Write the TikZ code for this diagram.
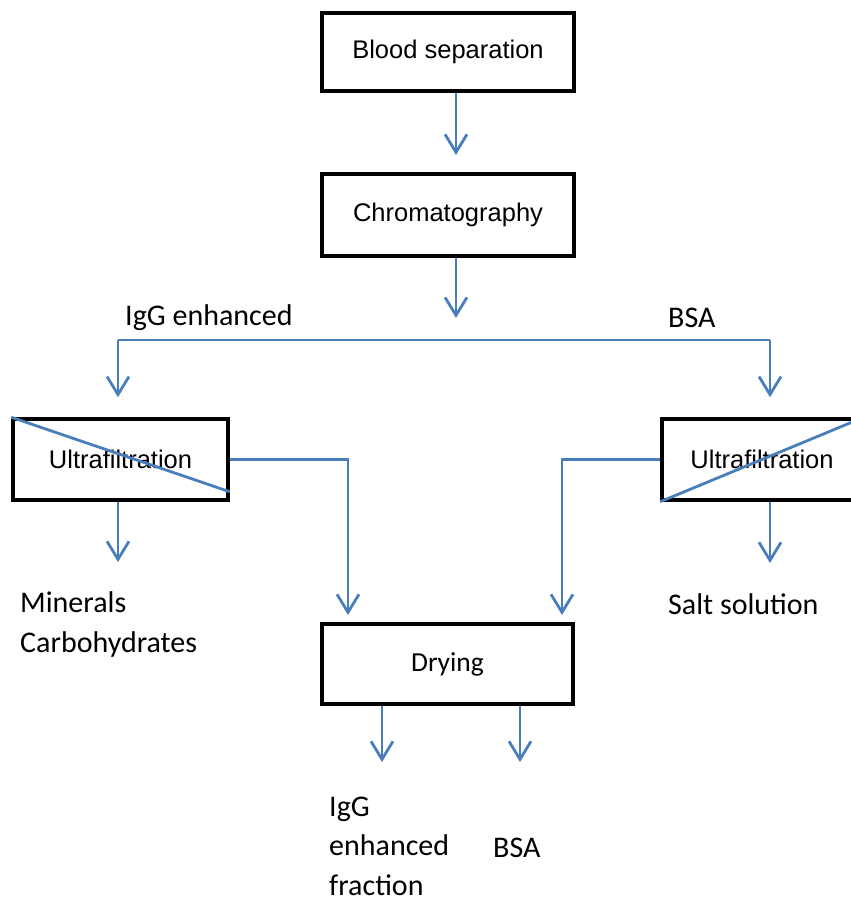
\documentclass[tikz,border=0pt]{standalone}
\usepackage{fontspec}
\setmainfont{Carlito}
\newfontfamily\boxfont{Liberation Sans}
\usetikzlibrary{arrows.meta,calc}

\definecolor{lineblue}{RGB}{74,126,187}

\begin{document}
\begin{tikzpicture}[
    x=1pt, y=1pt,
    box/.style={draw, line width=3.5pt, align=center, minimum height=81pt, minimum width=252pt,
      font=\boxfont\fontsize{25.5}{30}\selectfont},
    ufbox/.style={box, minimum width=215pt},
    label/.style={inner sep=0pt, anchor=west, align=left, font=\fontsize{30}{40}\selectfont},
    link/.style={draw=lineblue, line width=2.8pt},
    flow/.style={link, -{Straight Barb[length=18pt, width=22pt]}}
  ]
    \useasboundingbox (0,0) rectangle (851,900);

    % main process line
    \node[box, minimum height=78pt] (blood) at (448,848) {Blood separation};
    \node[box, minimum height=82pt] (chrom) at (448,685) {Chromatography};
    \node[ufbox] (ufl) at (120.5,440.5) {Ultrafiltration};
    \node[ufbox, minimum width=200pt] (ufr) at (762,440.5) {Ultrafiltration};
    \node[box, minimum width=251pt, minimum height=80pt, font=\fontsize{27.5}{32}\selectfont] (dry) at (447.5,236) {Drying};

    % crossed-out filters
    \draw[link] (ufl.north west) -- ($(ufl.south east)+(0,10)$);
    \draw[link] (ufr.south west) -- (ufr.north east);

    % free ends and branch points
    \coordinate (tochrom) at (456,745);
    \coordinate (tosplit) at (456,582);
    \coordinate (splitl) at (118,560);
    \coordinate (splitr) at (770,560);
    \coordinate (toming) at (118,338);
    \coordinate (tosalt) at (770,337);
    \coordinate (igin) at (348,285);
    \coordinate (bsain) at (562,285);
    \coordinate (igout) at (382,138);
    \coordinate (bsaout) at (520,138);

    % text
    \node[label] (igglab) at (125,582) {IgG enhanced};
    \node[label] (bsalab) at (668,582) {BSA};
    \node[label] (minlab) at (20,275.5) {Minerals\\Carbohydrates};
    \node[label] (saltlab) at (668,296) {Salt solution};
    \node[label, font=\fontsize{30}{39.5}\selectfont] (igfrac) at (329,54) {IgG\\enhanced\\fraction};
    \node[label] (bsafrac) at (493,52) {BSA};

    % connectors
    \draw[flow] (blood.south -| tochrom) -- (tochrom);
    \draw[flow] (chrom.south -| tosplit) -- (tosplit);
    \draw[link] (splitl) -- (splitr);
    \draw[flow, shorten >=20pt] (splitl) -- (ufl.north -| splitl);
    \draw[flow, shorten >=20pt] (splitr) -- (ufr.north -| splitr);
    \draw[flow] (ufl.south -| toming) -- (toming);
    \draw[flow] (ufr.south -| tosalt) -- (tosalt);
    \draw[flow] (ufl.east) -| (igin);
    \draw[flow] (ufr.west) -| (bsain);
    \draw[flow] (dry.south -| igout) -- (igout);
    \draw[flow] (dry.south -| bsaout) -- (bsaout);
\end{tikzpicture}
\end{document}
